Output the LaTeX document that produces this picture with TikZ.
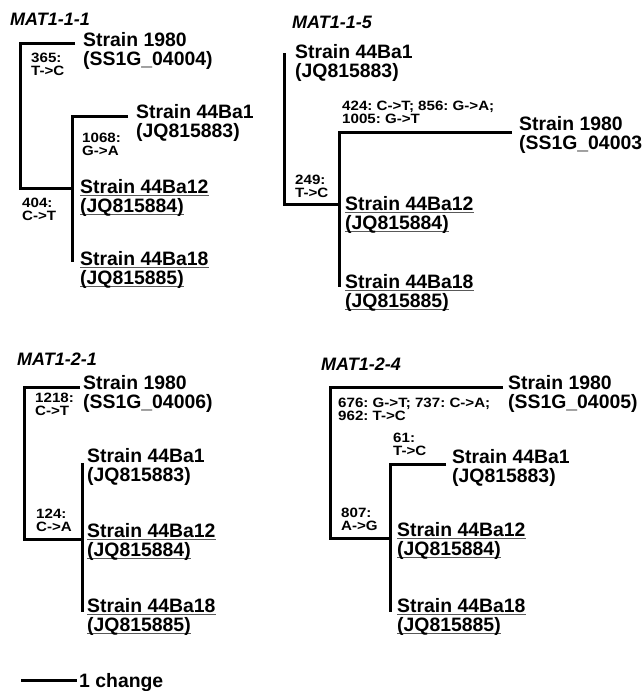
\documentclass[tikz,border=0pt]{standalone}
\usepackage{fontspec}
\setmainfont{Liberation Sans}
\newfontfamily\mutfont{Liberation Sans}[FakeStretch=1.12]
\newcommand\twol[2]{\begin{tabular}[t]{@{}l@{}}#1\\#2\end{tabular}}
\newcommand\ulx[1]{\setbox0=\hbox{#1}\rlap{\color{black!65}\rule[-2.4pt]{\wd0}{0.9pt}}\box0}
\begin{document}
\begin{tikzpicture}[x=1pt,y=-1pt,
  strain/.style={anchor=base west,inner sep=0pt,font=\fontsize{19.4}{18.5}\selectfont\bfseries},
  mut/.style={anchor=base west,inner sep=0pt,font=\mutfont\fontsize{13.5}{13}\selectfont\bfseries\frenchspacing},
  ttl/.style={anchor=base west,inner sep=0pt,font=\fontsize{18}{18}\selectfont\bfseries\itshape},
  br/.style={line width=3pt,line join=miter}]
\useasboundingbox (0,0) rectangle (642,691);

% ---------- Panel 1: MAT1-1-1
\node[ttl] (t1) at (10,25) {MAT1-1-1};
\coordinate (p1a) at (75,43);
\coordinate (p1b) at (20,43);
\coordinate (p1c) at (20,188);
\coordinate (p1d) at (72,188);
\coordinate (p1e) at (128,116);
\coordinate (p1f) at (72,116);
\coordinate (p1g) at (72,262);
\draw[br] (p1a) -- (p1b) -- (p1c) -- (p1d);
\draw[br] (p1e) -- (p1f) -- (p1g);
\node[strain] (p1s1980) at (83,46) {\twol{Strain 1980}{(SS1G\_04004)}};
\node[mut] (p1m365) at (31,62) {\twol{365:}{T->C}};
\node[strain] (p1s1) at (136,118) {\twol{Strain 44Ba1}{(JQ815883)}};
\node[mut] (p1m1068) at (82,142) {\twol{1068:}{G->A}};
\node[mut] (p1m404) at (22,207) {\twol{404:}{C->T}};
\node[strain] (p1s12) at (80,193) {\twol{\ulx{Strain 44Ba12}}{\ulx{(JQ815884)}}};
\node[strain] (p1s18) at (80,265) {\twol{\ulx{Strain 44Ba18}}{\ulx{(JQ815885)}}};

% ---------- Panel 2: MAT1-1-5
\node[ttl] (t2) at (292,28) {MAT1-1-5};
\coordinate (p2a) at (284,53);
\coordinate (p2b) at (284,204);
\coordinate (p2c) at (339,204);
\coordinate (p2d) at (512,132);
\coordinate (p2e) at (339,132);
\coordinate (p2f) at (339,287);
\draw[br] (p2a) -- (p2b) -- (p2c);
\draw[br] (p2d) -- (p2e) -- (p2f);
\node[strain] (p2s1) at (295,58) {\twol{Strain 44Ba1}{(JQ815883)}};
\node[mut] (p2m424) at (342,110) {\twol{424: C->T; 856: G->A;}{1005: G->T}};
\node[strain] (p2s1980) at (519,130) {\twol{Strain 1980}{(SS1G\_04003}};
\node[mut] (p2m249) at (295,184) {\twol{249:}{T->C}};
\node[strain] (p2s12) at (345,210) {\twol{\ulx{Strain 44Ba12}}{\ulx{(JQ815884)}}};
\node[strain] (p2s18) at (345,288) {\twol{\ulx{Strain 44Ba18}}{\ulx{(JQ815885)}}};

% ---------- Panel 3: MAT1-2-1
\node[ttl] (t3) at (17,365) {MAT1-2-1};
\coordinate (p3a) at (80,387);
\coordinate (p3b) at (24,387);
\coordinate (p3c) at (24,539);
\coordinate (p3d) at (82,539);
\coordinate (p3e) at (82,463);
\coordinate (p3f) at (82,612);
\draw[br] (p3a) -- (p3b) -- (p3c) -- (p3d);
\draw[br] (p3e) -- (p3f);
\node[strain] (p3s1980) at (83,389) {\twol{Strain 1980}{(SS1G\_04006)}};
\node[mut] (p3m1218) at (35,402) {\twol{1218:}{C->T}};
\node[strain] (p3s1) at (87,462) {\twol{Strain 44Ba1}{(JQ815883)}};
\node[mut] (p3m124) at (36,518) {\twol{124:}{C->A}};
\node[strain] (p3s12) at (87,537) {\twol{\ulx{Strain 44Ba12}}{\ulx{(JQ815884)}}};
\node[strain] (p3s18) at (87,612) {\twol{\ulx{Strain 44Ba18}}{\ulx{(JQ815885)}}};

% ---------- Panel 4: MAT1-2-4
\node[ttl] (t4) at (321,370) {MAT1-2-4};
\coordinate (p4a) at (503,387);
\coordinate (p4b) at (330,387);
\coordinate (p4c) at (330,538);
\coordinate (p4d) at (390,538);
\coordinate (p4e) at (446,464);
\coordinate (p4f) at (390,464);
\coordinate (p4g) at (390,612);
\draw[br] (p4a) -- (p4b) -- (p4c) -- (p4d);
\draw[br] (p4e) -- (p4f) -- (p4g);
\node[strain] (p4s1980) at (508,389) {\twol{Strain 1980}{(SS1G\_04005)}};
\node[mut] (p4m676) at (338,407) {\twol{676: G->T; 737: C->A;}{962: T->C}};
\node[mut] (p4m61) at (393,442) {\twol{61:}{T->C}};
\node[strain] (p4s1) at (452,463) {\twol{Strain 44Ba1}{(JQ815883)}};
\node[mut] (p4m807) at (341,517) {\twol{807:}{A->G}};
\node[strain] (p4s12) at (397,536) {\twol{\ulx{Strain 44Ba12}}{\ulx{(JQ815884)}}};
\node[strain] (p4s18) at (397,612) {\twol{\ulx{Strain 44Ba18}}{\ulx{(JQ815885)}}};

% ---------- Scale bar
\coordinate (sba) at (21,680);
\coordinate (sbb) at (77,680);
\draw[br] (sba) -- (sbb);
\node[strain] (sbl) at (79,687) {1 change};
\end{tikzpicture}
\end{document}
